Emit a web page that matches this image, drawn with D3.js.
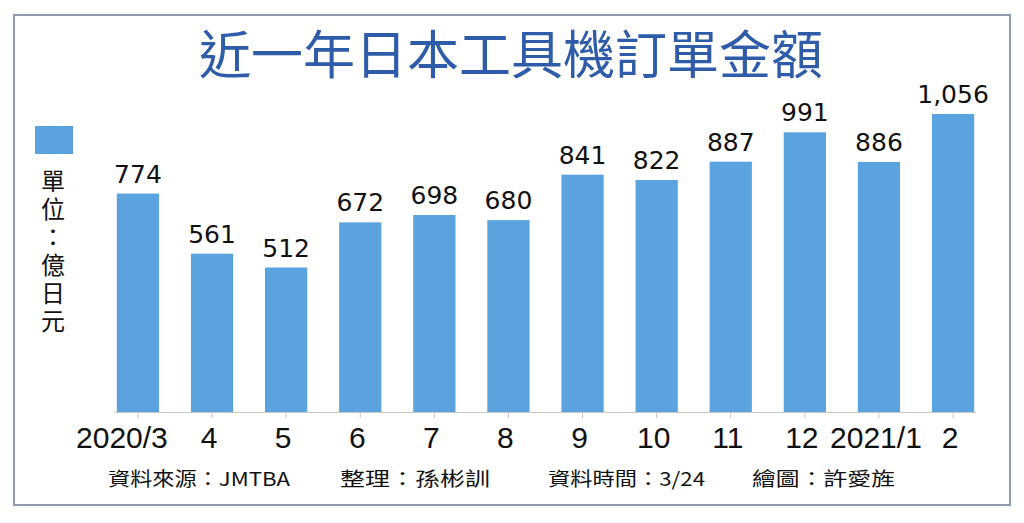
<!DOCTYPE html>
<html>
<head>
<meta charset="utf-8">
<script src="https://cdn.jsdelivr.net/npm/d3@7"></script>
<style>
  body { margin: 0; background: #fff; }
  svg { display: block; }
</style>
</head>
<body>
<svg id="chart" width="1024" height="523"></svg>
<script>
// values in 億日元
const months = ["2020/3", "4", "5", "6", "7", "8", "9", "10", "11", "12", "2021/1", "2"];
const orders = [774, 561, 512, 672, 698, 680, 841, 822, 887, 991, 886, 1056];
const unitLabel = "單位：億日元";
const footer = ["資料來源：JMTBA", "整理：孫彬訓", "資料時間：3/24", "繪圖：許愛旌"];

const svg = d3.select("#chart");

// frame
svg.append("rect")
    .attr("x", 14).attr("y", 15)
    .attr("width", 996).attr("height", 490)
    .attr("fill", "#fff")
    .attr("stroke", "#8d9ab0")
    .attr("stroke-width", 2);

svg.append("text")
    .attr("x", 511).attr("y", 74)
    .attr("text-anchor", "middle")
    .style("font-family", "'Noto Sans CJK TC'")
    .style("font-size", "52px")
    .style("font-weight", 400)
    .style("fill", "#2f5ca8")
    .text("近一年日本工具機訂單金額");

let x = d3.scaleBand()
    .domain(months)
    .range([102, 989])
    .paddingInner(0.43)
    .paddingOuter(0.2);

let y = d3.scaleLinear()
    .domain([0, 1056])
    .range([412, 114]);

// baseline + ticks
let ax = svg.append("g")
    .attr("transform", "translate(0,412)")
    .call(d3.axisBottom(x).tickSize(6).tickFormat(""));
ax.select(".domain").remove();
ax.selectAll("line").attr("stroke", "#c8c8c8");
svg.append("line")
    .attr("x1", x(months[0]) - 2).attr("x2", x(months[11]) + x.bandwidth() + 2)
    .attr("y1", 412.5).attr("y2", 412.5)
    .attr("stroke", "#c8c8c8");

svg.append("g")
    .selectAll("rect").data(orders)
    .join("rect")
        .attr("x", (d, i) => x(months[i]))
        .attr("y", d => y(d))
        .attr("width", x.bandwidth())
        .attr("height", d => y(0) - y(d))
        .attr("fill", "#5aa3de");

svg.append("g")
    .selectAll("text").data(orders)
    .join("text")
        .attr("x", (d, i) => x(months[i]) + x.bandwidth() / 2)
        .attr("y", d => y(d) - 11)
        .attr("text-anchor", "middle")
        .style("font-family", "'DejaVu Sans'")
        .style("font-size", "25px")
        .style("fill", "#111")
        .text(d => d3.format(",")(d));

svg.append("g")
    .selectAll("text").data(months)
    .join("text")
        .attr("x", d => x(d) + x.bandwidth() / 2)
        .attr("dx", (d, i) => i == 0 ? -16 : -3)
        .attr("y", 448)
        .attr("text-anchor", "middle")
        .style("font-family", "'Liberation Sans'")
        .style("font-size", "30px")
        .style("fill", "#111")
        .text(d => d);

// legend swatch and vertical unit label
svg.append("rect")
    .attr("x", 35).attr("y", 126)
    .attr("width", 38).attr("height", 28)
    .attr("fill", "#5aa3de");

svg.append("text")
    .attr("x", 53)
    .attr("y", 169)
    .style("writing-mode", "vertical-rl")
    .style("font-family", "'Noto Sans CJK TC'")
    .style("font-size", "24px")
    .style("letter-spacing", "4px")
    .style("fill", "#111")
    .text(unitLabel);

const footX = [108, 340, 548, 752];
const footW = [182, 150, 157, 143];
svg.append("g")
    .selectAll("text").data(footer)
    .join("text")
        .attr("x", (d, i) => footX[i])
        .attr("y", 486)
        .attr("textLength", (d, i) => footW[i])
        .attr("lengthAdjust", "spacingAndGlyphs")
        .style("font-family", "'Noto Sans CJK TC'")
        .style("font-size", "19px")
        .style("fill", "#111")
        .text(d => d);
</script>
</body>
</html>
